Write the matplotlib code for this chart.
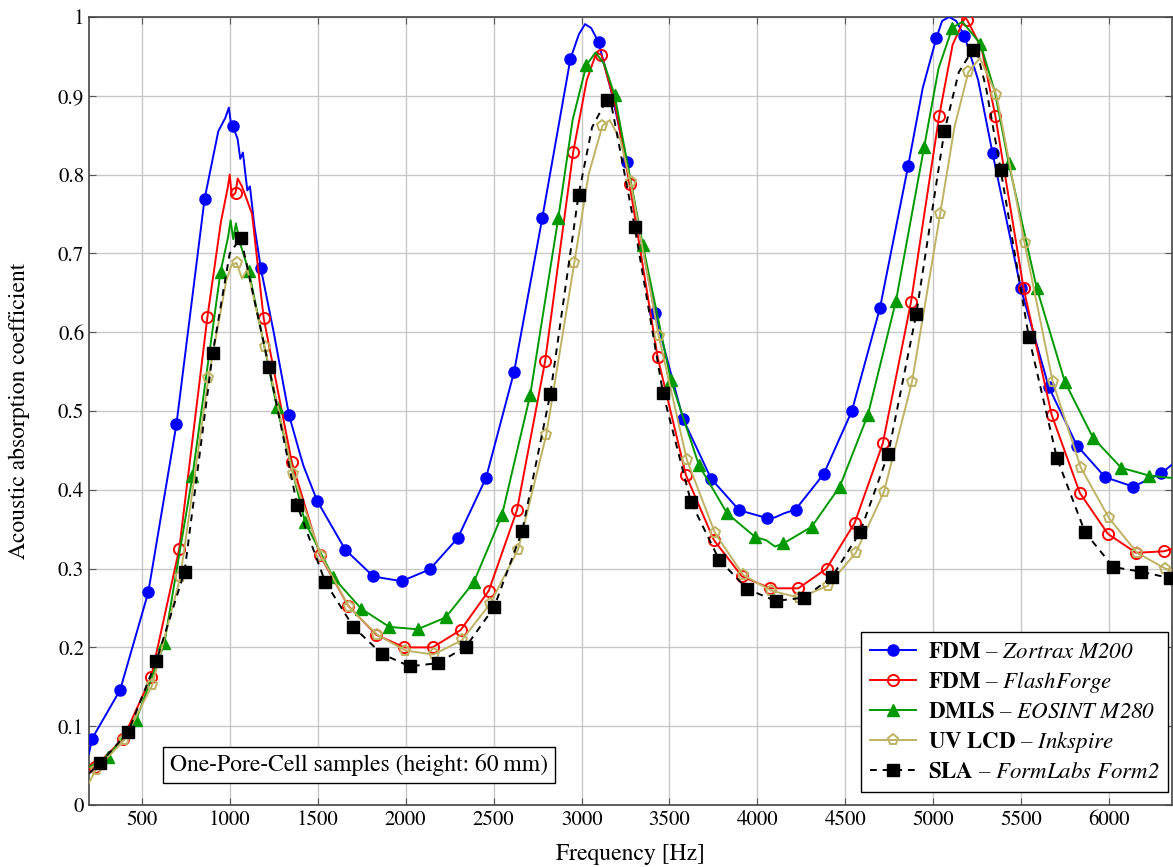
import numpy as np
import matplotlib.pyplot as plt

plt.rcParams['font.family'] = ['STIXGeneral', 'DejaVu Sans']
# legend: bold maker name, italic model (digits too)
plt.rcParams['mathtext.fontset'] = 'custom'
plt.rcParams['mathtext.rm'] = 'STIXGeneral:italic'
plt.rcParams['mathtext.it'] = 'STIXGeneral:italic'
plt.rcParams['mathtext.bf'] = 'STIXGeneral:bold'

# marker positions [Hz] and absorption values
f_zortrax = [217, 377, 537, 697, 857, 1017, 1177, 1337, 1497, 1657, 1817, 1977, 2137, 2297,
             2457, 2617, 2777, 2937, 3097, 3257, 3417, 3577, 3737, 3897, 4057, 4217, 4377,
             4537, 4697, 4857, 5017, 5177, 5337, 5497, 5657, 5817, 5977, 6137, 6297]
a_zortrax = [0.084, 0.146, 0.270, 0.483, 0.769, 0.862, 0.681, 0.495, 0.386, 0.324, 0.290,
             0.284, 0.299, 0.339, 0.415, 0.550, 0.745, 0.947, 0.968, 0.816, 0.624, 0.490,
             0.414, 0.374, 0.364, 0.375, 0.420, 0.500, 0.631, 0.811, 0.973, 0.976, 0.827,
             0.656, 0.530, 0.456, 0.416, 0.404, 0.421]
# extra line points between markers (peaks, noise, ends)
fx_zortrax = [200, 935, 975, 995, 1005, 1045, 1060, 1075, 1100, 1115, 1140, 1250, 1400, 1420,
              2985, 3020, 3055, 3170, 4100, 4150, 4940, 5050, 5090, 5130, 5255, 6357]
ax_zortrax = [0.065, 0.855, 0.872, 0.885, 0.868, 0.845, 0.820, 0.828, 0.780, 0.785, 0.735,
              0.600, 0.445, 0.430, 0.978, 0.991, 0.986, 0.905, 0.365, 0.370, 0.910, 0.995,
              1.000, 0.995, 0.920, 0.432]

f_flash = [233, 393, 553, 713, 873, 1033, 1193, 1353, 1513, 1673, 1833, 1993, 2153, 2313,
           2473, 2633, 2793, 2953, 3113, 3273, 3433, 3593, 3753, 3913, 4073, 4233, 4393,
           4553, 4713, 4873, 5033, 5193, 5353, 5513, 5673, 5833, 5993, 6153, 6313]
a_flash = [0.048, 0.084, 0.162, 0.325, 0.619, 0.777, 0.618, 0.435, 0.317, 0.253, 0.216,
           0.200, 0.200, 0.222, 0.272, 0.374, 0.563, 0.829, 0.952, 0.788, 0.568, 0.419,
           0.336, 0.290, 0.275, 0.275, 0.300, 0.358, 0.459, 0.638, 0.874, 0.996, 0.874,
           0.656, 0.495, 0.396, 0.344, 0.320, 0.322]
fx_flash = [200, 950, 990, 1000, 1012, 1045, 1070, 1127, 3030, 3085, 3190, 5110, 5180,
            5275, 6357]
ax_flash = [0.045, 0.740, 0.785, 0.800, 0.772, 0.795, 0.785, 0.750, 0.920, 0.955, 0.890,
            0.965, 0.999, 0.960, 0.325]

f_eosint = [308, 468, 628, 788, 948, 1108, 1268, 1428, 1588, 1748, 1908, 2068, 2228, 2388,
            2548, 2708, 2868, 3028, 3188, 3348, 3508, 3668, 3828, 3988, 4148, 4308, 4468,
            4628, 4788, 4948, 5108, 5268, 5428, 5588, 5748, 5908, 6068, 6228]
a_eosint = [0.061, 0.108, 0.205, 0.417, 0.677, 0.678, 0.505, 0.359, 0.289, 0.249, 0.226,
            0.223, 0.238, 0.283, 0.368, 0.520, 0.745, 0.939, 0.901, 0.711, 0.539, 0.431,
            0.370, 0.340, 0.332, 0.353, 0.404, 0.495, 0.640, 0.835, 0.986, 0.966, 0.815,
            0.656, 0.537, 0.466, 0.428, 0.418]
fx_eosint = [200, 990, 1005, 1020, 1035, 1060, 2950, 3080, 3130, 4050, 4100, 5030, 5165,
             5350, 6357]
ax_eosint = [0.048, 0.720, 0.742, 0.718, 0.738, 0.712, 0.870, 0.955, 0.940, 0.336, 0.328,
             0.935, 0.994, 0.905, 0.415]

f_inkspire = [239, 399, 559, 719, 879, 1039, 1199, 1359, 1519, 1679, 1839, 1999, 2159, 2319,
              2479, 2639, 2799, 2959, 3119, 3279, 3439, 3599, 3759, 3919, 4079, 4239, 4399,
              4559, 4719, 4879, 5039, 5199, 5359, 5519, 5679, 5839, 5999, 6159, 6319]
a_inkspire = [0.045, 0.082, 0.152, 0.289, 0.542, 0.688, 0.581, 0.420, 0.316, 0.251, 0.216,
              0.196, 0.191, 0.209, 0.255, 0.324, 0.469, 0.688, 0.862, 0.790, 0.595, 0.438,
              0.345, 0.292, 0.272, 0.263, 0.278, 0.320, 0.397, 0.537, 0.750, 0.930, 0.901,
              0.713, 0.537, 0.428, 0.364, 0.320, 0.300]
fx_inkspire = [200, 980, 1010, 1070, 1100, 3040, 3160, 3220, 5120, 5265, 6357]
ax_inkspire = [0.028, 0.665, 0.685, 0.668, 0.680, 0.800, 0.869, 0.845, 0.860, 0.948, 0.298]

f_form2 = [263, 423, 583, 743, 903, 1063, 1223, 1383, 1543, 1703, 1863, 2023, 2183, 2343,
           2503, 2663, 2823, 2983, 3143, 3303, 3463, 3623, 3783, 3943, 4103, 4263, 4423,
           4583, 4743, 4903, 5063, 5223, 5383, 5543, 5703, 5863, 6023, 6183, 6343]
a_form2 = [0.053, 0.093, 0.183, 0.296, 0.573, 0.720, 0.556, 0.381, 0.283, 0.226, 0.192,
           0.176, 0.180, 0.201, 0.251, 0.348, 0.522, 0.774, 0.895, 0.733, 0.523, 0.384,
           0.311, 0.274, 0.259, 0.263, 0.289, 0.346, 0.445, 0.623, 0.855, 0.958, 0.806,
           0.594, 0.440, 0.346, 0.302, 0.296, 0.288]
fx_form2 = [200, 1000, 3060, 3160, 3220, 5145, 5240, 5300]
ax_form2 = [0.040, 0.700, 0.860, 0.900, 0.830, 0.930, 0.963, 0.910]

labels = [r'$\mathbf{FDM}$ – $\mathrm{Zortrax\ M200}$',
          r'$\mathbf{FDM}$ – $\mathrm{FlashForge}$',
          r'$\mathbf{DMLS}$ – $\mathrm{EOSINT\ M280}$',
          r'$\mathbf{UV\ LCD}$ – $\mathrm{Inkspire}$',
          r'$\mathbf{SLA}$ – $\mathrm{FormLabs\ Form2}$']

series = [
    (f_zortrax, a_zortrax, fx_zortrax, ax_zortrax,
     dict(color='#0000ff', marker='o', mfc='#0000ff', ls='-')),
    (f_flash, a_flash, fx_flash, ax_flash,
     dict(color='#ff0000', marker='o', mfc='none', mew=1.4, ls='-')),
    (f_eosint, a_eosint, fx_eosint, ax_eosint,
     dict(color='#009a00', marker='^', mfc='#009a00', ls='-')),
    (f_inkspire, a_inkspire, fx_inkspire, ax_inkspire,
     dict(color='#bfb262', marker='p', mfc='none', mew=1.4, ls='-')),
    (f_form2, a_form2, fx_form2, ax_form2,
     dict(color='black', marker='s', mfc='black', ls=(0, (3.5, 3)))),
]

fig = plt.figure(figsize=(11.73, 8.67), dpi=100)
ax = fig.add_axes([89 / 1173, 1 - 805 / 867, 1083 / 1173, 788 / 867])

for (fm, am, fe, ae, st), lab in zip(series, labels):
    f = np.array(fm + fe, dtype=float)
    a = np.array(am + ae, dtype=float)
    ismark = np.array([True] * len(fm) + [False] * len(fe))
    order = np.argsort(f, kind='stable')
    f, a, ismark = f[order], a[order], ismark[order]
    idx = list(np.nonzero(ismark)[0])
    ax.plot(f, a, lw=1.4, ms=8, markevery=idx, label=lab, zorder=3, **st)

ax.set_xlim(200, 6357)
ax.set_ylim(0, 1)
ax.set_xticks([500, 1000, 1500, 2000, 2500, 3000, 3500, 4000, 4500, 5000, 5500, 6000])
ax.set_yticks([0, 0.1, 0.2, 0.3, 0.4, 0.5, 0.6, 0.7, 0.8, 0.9, 1])
ax.set_yticklabels(['0', '0.1', '0.2', '0.3', '0.4', '0.5', '0.6', '0.7', '0.8', '0.9', '1'])
ax.grid(True, color='#c8c8c8', lw=1)
ax.set_axisbelow(True)
ax.tick_params(direction='in', top=True, right=True, length=5, color='#555555',
               labelsize=15, labelcolor='black')
for sp in ax.spines.values():
    sp.set_color('#444444')
    sp.set_linewidth(1.2)
ax.set_xlabel('Frequency [Hz]', fontsize=17, labelpad=10)
ax.set_ylabel('Acoustic absorption coefficient', fontsize=17, labelpad=20)

ax.text(1735, 0.051, 'One-Pore-Cell samples (height: 60\u2009mm)', fontsize=17,
        ha='center', va='center', zorder=5,
        bbox=dict(boxstyle='square,pad=0.3', fc='white', ec='black', lw=1))

leg = ax.legend(loc='lower right', bbox_to_anchor=(0.9965, 0.016), fontsize=16.5,
                fancybox=False, edgecolor='black', framealpha=1, handlelength=2.0,
                borderpad=0.4, labelspacing=0.3, handletextpad=0.5, borderaxespad=0)
leg.get_frame().set_linewidth(1)
leg.set_zorder(6)

fig.savefig('out.png', dpi=100)
